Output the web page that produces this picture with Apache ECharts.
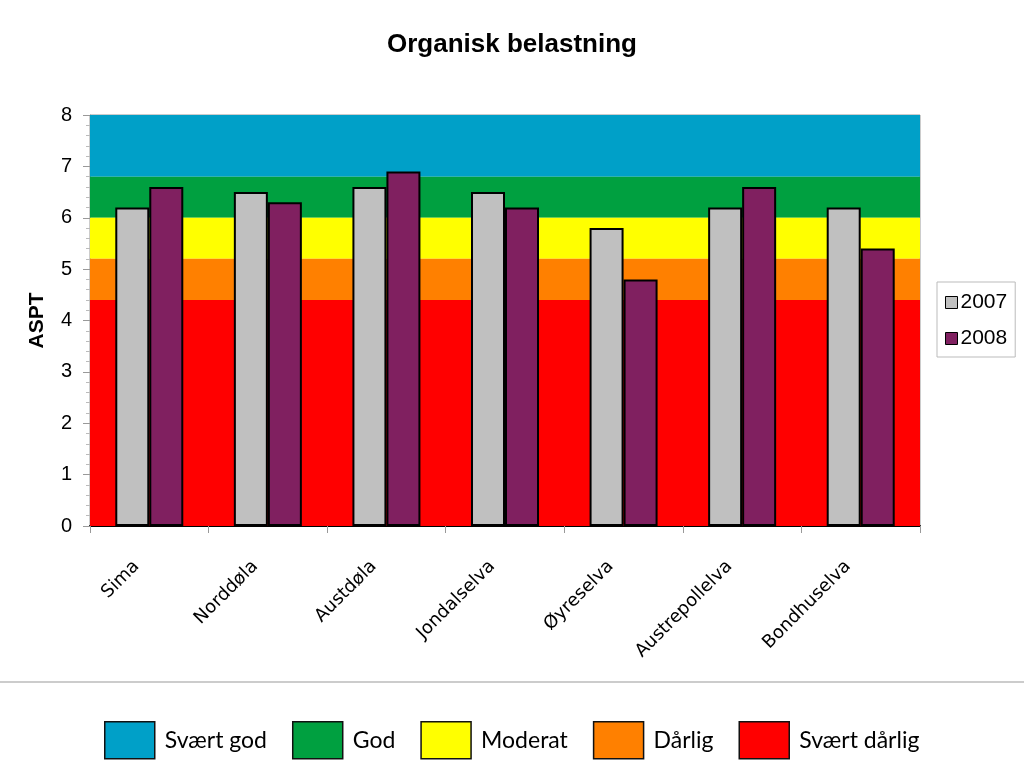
<!DOCTYPE html>
<html>
<head>
<meta charset="utf-8">
<script src="https://cdn.jsdelivr.net/npm/echarts@6/dist/echarts.min.js"></script>
<style>html,body{margin:0;padding:0;background:#fff;}#c{width:1024px;height:760px;}</style>
</head>
<body>
<div id="c"></div>
<script>
const categories = ['Sima','Norddøla','Austdøla','Jondalselva','Øyreselva','Austrepollelva','Bondhuselva'];
const values2007 = [6.2, 6.5, 6.6, 6.5, 5.8, 6.2, 6.2];
const values2008 = [6.6, 6.3, 6.9, 6.2, 4.8, 6.6, 5.4];
const bandNames = ['Svært god','God','Moderat','Dårlig','Svært dårlig'];
const bandLower = [6.8, 6.0, 5.2, 4.4, 0];
const bandUpper = [8, 6.8, 6.0, 5.2, 4.4];
const bandColors = ['#00A0C8','#00A040','#FFFF00','#FF8000','#FF0000'];

const chart = echarts.init(document.getElementById('c'));

const bandSeries = bandNames.map((name, i) => ({
  name: name,
  type: 'line',
  data: [],
  z: 0,
  color: bandColors[i],
  itemStyle: { color: bandColors[i] },
  markArea: {
    silent: true,
    itemStyle: { color: bandColors[i], opacity: 1 },
    data: [[{ yAxis: bandLower[i] }, { yAxis: bandUpper[i] }]]
  }
}));

chart.setOption({
  animation: false,
  backgroundColor: '#fff',
  title: {
    text: 'Organisk belastning',
    left: 'center',
    top: 27,
    textStyle: { fontFamily: 'Liberation Sans, Arial', fontWeight: 'bold', fontSize: 26, color: '#000' }
  },
  grid: { left: 90, right: 104, top: 115, bottom: 234, show: true, borderColor: '#999', borderWidth: 1 },
  legend: [
    {
      data: ['2007','2008'],
      orient: 'vertical',
      left: 937, top: 282,
      padding: [10, 8, 8, 8],
      itemGap: 15,
      borderColor: '#bbb', borderWidth: 1,
      itemWidth: 12, itemHeight: 12,
      icon: 'rect',
      itemStyle: { borderColor: '#000', borderWidth: 1 },
      textStyle: { fontFamily: 'Liberation Sans, Arial', fontSize: 21, color: '#000', padding: [0,0,0,-2] }
    },
    {
      data: bandNames,
      orient: 'horizontal',
      left: 104, top: 721,
      padding: 0,
      itemGap: 25,
      itemWidth: 50, itemHeight: 37,
      icon: 'rect',
      itemStyle: { borderColor: '#111', borderWidth: 1.5 },
      textStyle: { fontFamily: 'Lato, Open Sans', fontSize: 23, color: '#000', padding: [0,0,0,5] }
    }
  ],
  xAxis: {
    type: 'category',
    data: categories,
    axisLine: { lineStyle: { color: '#000', width: 2 } },
    axisTick: { show: true, length: 7, lineStyle: { color: '#999' } },
    axisLabel: {
      rotate: 45,
      fontFamily: 'DejaVu Sans',
      fontSize: 18,
      color: '#000',
      margin: 25,
      padding: [0, 18, 0, 0]
    }
  },
  yAxis: {
    type: 'value',
    min: 0, max: 8, interval: 1,
    name: 'ASPT',
    nameLocation: 'middle',
    nameGap: 42,
    nameTextStyle: { fontFamily: 'Liberation Sans, Arial', fontWeight: 'bold', fontSize: 21, color: '#000' },
    axisLine: { show: true, lineStyle: { color: '#999' } },
    axisTick: { show: true, length: 7, lineStyle: { color: '#999' } },
    minorTick: { show: true, splitNumber: 5, length: 4, lineStyle: { color: '#bbb' } },
    splitLine: { show: false },
    axisLabel: { fontFamily: 'Liberation Sans, Arial', fontSize: 20, color: '#000', margin: 18 }
  },
  graphic: [
    { type: 'line', shape: { x1: 0, y1: 682, x2: 1024, y2: 682 }, style: { stroke: '#bbb', lineWidth: 1.5 } }
  ],
  series: bandSeries.concat([
    {
      name: '2007', type: 'bar', data: values2007, z: 3,
      barWidth: 34, barGap: '0%',
      itemStyle: { color: '#C0C0C0', borderColor: '#000', borderWidth: 2 }
    },
    {
      name: '2008', type: 'bar', data: values2008, z: 3,
      barWidth: 34, barGap: '0%',
      itemStyle: { color: '#802060', borderColor: '#000', borderWidth: 2 }
    }
  ])
});
</script>
</body>
</html>
